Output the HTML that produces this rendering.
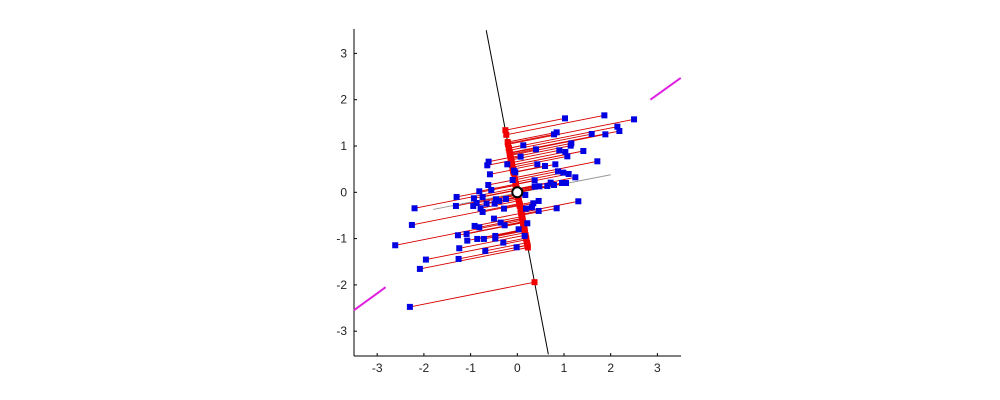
<!DOCTYPE html>
<html><head><style>body{margin:0;background:#fff}svg{display:block}text{font-family:"Liberation Sans",sans-serif;font-size:12px;fill:#222}</style></head>
<body>
<svg id="s" width="1000" height="400" xmlns="http://www.w3.org/2000/svg"></svg>
<script>
const S=document.getElementById('s');
const X0=517.3,Y0=192.3,KX=46.7,KY=46.3;
const px=x=>X0+x*KX, py=y=>Y0-y*KY;
let h='';
function L(x1,y1,x2,y2,c,w){h+=`<line x1="${px(x1)}" y1="${py(y1)}" x2="${px(x2)}" y2="${py(y2)}" stroke="${c}" stroke-width="${w}"/>`;}
h+=`<line x1="354" y1="29" x2="354" y2="356" stroke="#000"/><line x1="354" y1="356" x2="681" y2="356" stroke="#000"/>`;
for(let i=-3;i<=3;i++){h+=`<line x1="${px(i)}" y1="356" x2="${px(i)}" y2="353" stroke="#000"/><text x="${px(i)}" y="372" text-anchor="middle">${i}</text>`;
h+=`<line x1="354" y1="${py(i)}" x2="357" y2="${py(i)}" stroke="#000"/><text x="347" y="${py(i)+4}" text-anchor="end">${i}</text>`;}
L(-0.665,3.5,0.665,-3.5,'#000',1);
L(-1.8,-0.37,2,0.38,'#999',1);
L(-3.5,-2.55,-2.82,-2.05,'#e020e0',2);L(2.85,2.0,3.5,2.47,'#e020e0',2);
const Z=[[705,295],[823,286],[912,298],[862,320],[868,333],[785,342],[826,343],[672,343],[680,337],[580,376],[618,388],[724,370],[722,377],[688,391],[706,396],[712,409],[760,393],[572,410],[476,425],[472,436],[532,433],[622,433],[645,438],[676,433],[802,424],[480,463],[552,452],[556,457],[684,454],[700,458],[716,462],[736,472],[614,481],[475,495],[484,510],[548,480],[628,499],[614,500],[652,498],[662,488],[672,495],[696,489],[708,489],[586,525],[448,514],[380,531],[432,535],[458,531],[498,538],[528,537],[508,543],[440,549],[470,551],[494,551],[378,558],[430,558],[452,565],[458,576],[522,566],[254,565],[626,543],[610,550],[606,562],[588,566],[626,573],[680,565],[745,544],[492,596],[512,608],[524,616],[246,615],[434,618],[448,622],[592,610],[566,628],[384,646],[410,642],[442,657],[462,657],[496,648],[496,656],[584,648],[196,676],[412,662],[520,668],[388,685],[466,693],[560,682],[288,719],[386,717],[270,747],[240,861]];
const P=Z.map(([a,b])=>[(a-562)/140,(517-b)/139]);
let reds='',blues='';
for(const [x,y] of P){const t=-(x+0.19*y)/1.038;const qx=x+t,qy=y+0.2*t;
L(x,y,qx,qy,'#d80000',0.9);
reds+=`<rect x="${px(qx)-3}" y="${py(qy)-3}" width="6" height="6" fill="#f00000"/>`;
blues+=`<rect x="${px(x)-3}" y="${py(y)-3}" width="6" height="6" fill="#0000e0"/>`;}
h+=reds+blues;
h+=`<circle cx="${X0}" cy="${Y0}" r="5" fill="#fff" stroke="#000" stroke-width="2"/>`;
S.innerHTML=h;
</script>
</body></html>
